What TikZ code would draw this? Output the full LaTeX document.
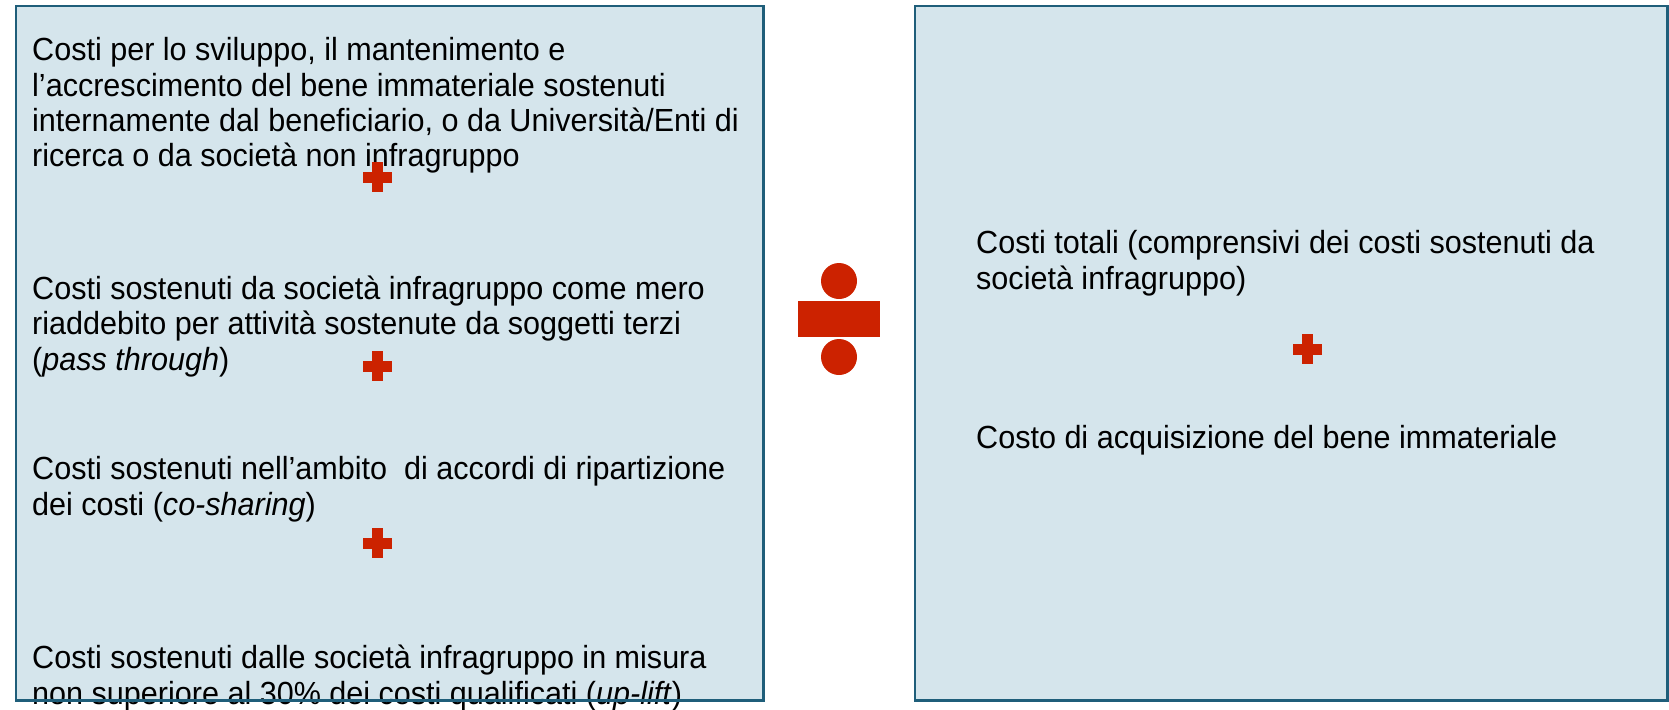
\documentclass[tikz,border=0pt]{standalone}
\usepackage{fontspec}
\setmainfont{Liberation Sans}[FakeStretch=0.955]
\definecolor{boxfill}{RGB}{213,229,236}
\definecolor{boxline}{RGB}{31,94,122}
\definecolor{redc}{RGB}{204,34,0}
\tikzset{
  panel/.style={fill=boxfill, draw=none, inner sep=0pt, anchor=north west},
  panelborder/.style={draw=boxline, line width=2.5pt},
  para/.style={anchor=base west, inner sep=0pt, align=left, font=\fontsize{32}{35.2}\selectfont},
  plussign/.pic={
    \fill[redc] (-14.5,-5.5) rectangle (14.5,5.5);
    \fill[redc] (-5.5,-15) rectangle (5.5,15);
  }
}
\begin{document}
\begin{tikzpicture}[x=1pt,y=-1pt]
\useasboundingbox (0,0) rectangle (1669,709);
% panels
\node[panel, minimum width=747pt, minimum height=694pt] (L) at (16,6) {};
\node[panel, minimum width=752pt, minimum height=694pt] (R) at (915,6) {};
% left texts (anchored at the baseline of their last line)
\node[para] (p1) at (32,166.5) {Costi per lo sviluppo, il mantenimento e\\l’accrescimento del bene immateriale sostenuti\\internamente dal beneficiario, o da Università/Enti di\\ricerca o da società non infragruppo};
\node[para] (p2) at (32,370) {Costi sostenuti da società infragruppo come mero\\riaddebito per attività sostenute da soggetti terzi\\(\textit{pass through})};
\node[para] (p3) at (32,515) {Costi sostenuti nell’ambito\ \ di accordi di ripartizione\\dei costi (\textit{co-sharing})};
\node[para] (p4) at (32,704) {Costi sostenuti dalle società infragruppo in misura\\non superiore al 30\% dei costi qualificati (\textit{up-lift})};
% right texts
\node[para] (q1) at (976,289) {Costi totali (comprensivi dei costi sostenuti da\\società infragruppo)};
\node[para] (q2) at (976,448) {Costo di acquisizione del bene immateriale};
% plus signs
\pic at (377.5,177) {plussign};
\pic at (377.5,366) {plussign};
\pic at (377.5,543) {plussign};
\pic at (1307.5,349) {plussign};
% division sign
\fill[redc] (839,281) circle (18);
\fill[redc] (798,301) rectangle (880,337);
\fill[redc] (839,357) circle (18);
% borders on top
\draw[panelborder] (L.north west) rectangle (L.south east);
\draw[panelborder] (R.north west) rectangle (R.south east);
\end{tikzpicture}
\end{document}
